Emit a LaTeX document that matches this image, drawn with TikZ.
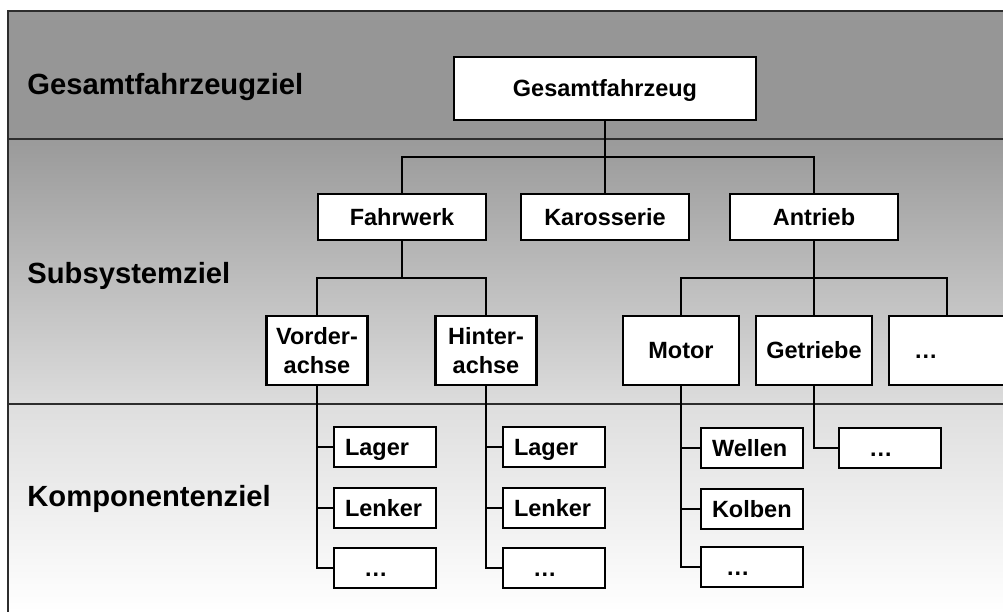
\documentclass[tikz,border=0pt]{standalone}
\usepackage{fontspec}
\setmainfont{Liberation Sans}
\usetikzlibrary{calc}
\definecolor{ink}{RGB}{0,0,0}
\definecolor{rule}{RGB}{45,45,45}
\definecolor{bandA}{RGB}{150,150,150}
\definecolor{bandBtop}{RGB}{154,154,154}
\definecolor{bandBbot}{RGB}{220,220,220}
\definecolor{bandCtop}{RGB}{222,222,222}
\definecolor{bandCbot}{RGB}{255,255,255}
\tikzset{
  blk/.style={draw=ink,line width=1.2pt,fill=white,inner sep=0pt,align=center,
    font=\fontsize{11.75}{14.5}\selectfont\bfseries},
  oneline/.style={text height=8.4pt,text depth=0pt},
  topbox/.style={blk,oneline,minimum width=151pt,minimum height=31.5pt},
  subbox/.style={blk,oneline,minimum width=84pt,minimum height=23pt},
  partbox/.style={blk,minimum width=50.5pt,minimum height=34.5pt},
  unitbox/.style={blk,oneline,minimum width=58pt,minimum height=34.5pt},
  leaf/.style={blk,oneline,minimum width=51pt,minimum height=20pt,
    inner xsep=5.5pt,text width=40pt,align=left},
  dotleaf/.style={leaf,inner xsep=15pt,text width=21pt},
  goal/.style={anchor=base west,inner sep=0pt,font=\fontsize{14.6}{17}\selectfont\bfseries},
  link/.style={line width=1.1pt,ink},
  bandline/.style={rule,line width=1pt},
}

\begin{document}
\begin{tikzpicture}[x=0.5pt,y=-0.5pt]
  \useasboundingbox (0,0) rectangle (1003,612);
  % the three goal levels
  \fill[bandA] (8,11) rectangle (1003,139);
  \shade[top color=bandBtop,bottom color=bandBbot] (8,139) rectangle (1003,404);
  \shade[top color=bandCtop,bottom color=bandCbot] (8,404) rectangle (1003,612);
  \draw[rule,line width=1pt] (1003,11) -- (8,11) -- (8,612);
  \draw[bandline] (8,139) -- (1003,139);
  \draw[bandline,line width=0.7pt] (8,404) -- (1003,404);

  \node[goal] (g1) at (27,94) {Gesamtfahrzeugziel};
  \node[goal] (g2) at (27,283) {Subsystemziel};
  \node[goal] (g3) at (27,506) {Komponentenziel};

  % vehicle and subsystems
  \node[topbox] (gf) at (605,88.5) {Gesamtfahrzeug};
  \node[subbox] (fw) at (402,217) {Fahrwerk};
  \node[subbox] (ka) at (605,217) {Karosserie};
  \node[subbox] (an) at (814,217) {Antrieb};
  \node[partbox] (va) at (317,350.5) {Vorder-\\achse};
  \node[partbox] (ha) at (486,350.5) {Hinter-\\achse};
  \node[unitbox] (mo) at (681,350.5) {Motor};
  \node[unitbox] (ge) at (814,350.5) {Getriebe};
  \node[unitbox,inner xsep=12.5pt,text width=33pt,align=left] (ad) at (947,350.5) {…};

  % components
  \node[leaf] (va1) at (385,447) {Lager};
  \node[leaf] (va2) at (385,508) {Lenker};
  \node[dotleaf] (va3) at (385,568) {…};
  \node[leaf] (ha1) at (554,447) {Lager};
  \node[leaf] (ha2) at (554,508) {Lenker};
  \node[dotleaf] (ha3) at (554,568) {…};
  \node[leaf] (mo1) at (752,448) {Wellen};
  \node[leaf] (mo2) at (752,509) {Kolben};
  \node[dotleaf,inner xsep=12.5pt,text width=26pt] (mo3) at (752,567) {…};
  \node[dotleaf] (ge1) at (890,448) {…};

  \coordinate (j0) at (605,157);
  \coordinate (j1) at (402,278);
  \coordinate (j2) at (814,278);
  \draw[link] (gf) -- (ka);
  \draw[link] (fw.north) |- (j0) -| (an.north);
  \draw[link] (fw) -- (j1);
  \draw[link] (va.north) |- (j1) -| (ha.north);
  \draw[link] (an) -- (ge);
  \draw[link] (mo.north) |- (j2) -| (ad.north);
  \foreach \p in {va,ha,mo}{
    \draw[link] (\p.south) |- (\p3.west);
    \foreach \k in {1,2}
      \draw[link] (\p.south |- \p\k.west) -- (\p\k.west);
  }
  \draw[link] (ge.south) |- (ge1.west);
\end{tikzpicture}
\end{document}
